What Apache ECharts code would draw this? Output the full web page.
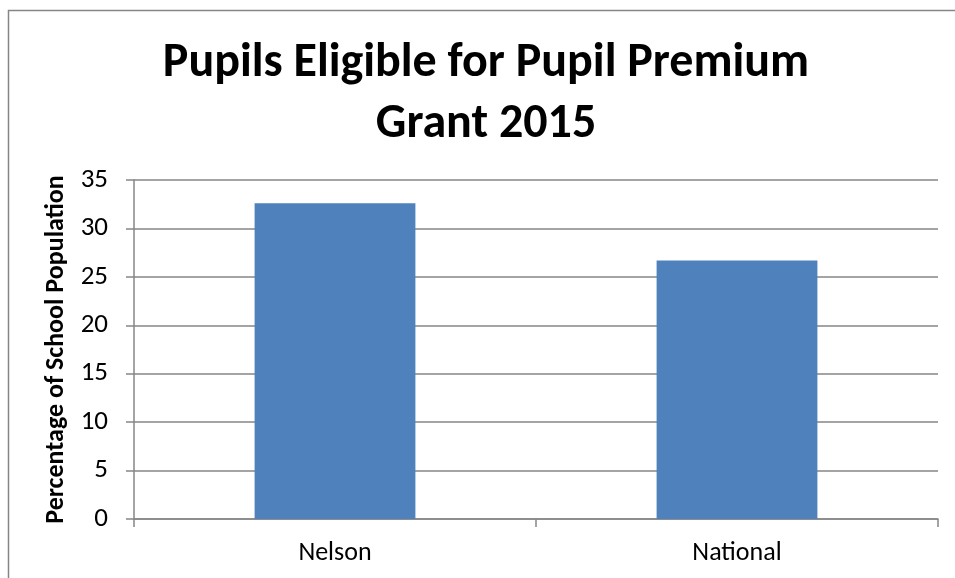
<!DOCTYPE html>
<html>
<head>
<meta charset="utf-8">
<script src="https://cdn.jsdelivr.net/npm/echarts@6/dist/echarts.min.js"></script>
<style>
  html, body { margin: 0; padding: 0; background: #fff; }
  #chart { width: 955px; height: 578px; }
</style>
</head>
<body>
<div id="chart"></div>
<script>
// data
var categories = ['Nelson', 'National'];
var values = [32.6, 26.7];
var chartTitle = 'Pupils Eligible for Pupil Premium\nGrant 2015';
var yName = 'Percentage of School Population';

var font = 'Carlito, Lato, sans-serif';
var gray = '#868686';

var chart = echarts.init(document.getElementById('chart'));
var option = {
  animation: false,
  title: {
    text: chartTitle,
    left: 481,
    textAlign: 'center',
    top: 28,
    textStyle: {
      fontFamily: font,
      fontSize: 48,
      fontWeight: 'bold',
      color: '#000',
      lineHeight: 61
    }
  },
  graphic: [{
    type: 'rect',
    shape: { x: 8.5, y: 10.5, width: 1000, height: 1000 },
    style: { fill: 'none', stroke: gray, lineWidth: 1.5 },
    silent: true
  }],
  grid: { left: 134, right: 17, top: 180, bottom: 59 },
  xAxis: {
    type: 'category',
    data: categories,
    axisLine: { lineStyle: { color: gray, width: 1.5 } },
    axisTick: { show: true, length: 8, lineStyle: { color: gray, width: 1.5 } },
    axisLabel: { fontFamily: font, fontSize: 26, color: '#000', margin: 21 }
  },
  yAxis: {
    type: 'value',
    min: 0,
    max: 35,
    interval: 5,
    name: yName,
    nameLocation: 'middle',
    nameGap: 55,
    nameTextStyle: { fontFamily: font, fontSize: 26, fontWeight: 'bold', color: '#000' },
    axisLine: { show: true, lineStyle: { color: gray, width: 1.5 } },
    axisTick: { show: true, length: 8, lineStyle: { color: gray, width: 1.5 } },
    axisLabel: { fontFamily: font, fontSize: 27, color: '#000', margin: 26 },
    splitLine: { lineStyle: { color: gray, width: 1.5 } }
  },
  series: [{
    type: 'bar',
    data: values,
    barWidth: '40%',
    itemStyle: { color: '#4F81BD' }
  }]
};
chart.setOption(option);
</script>
</body>
</html>
